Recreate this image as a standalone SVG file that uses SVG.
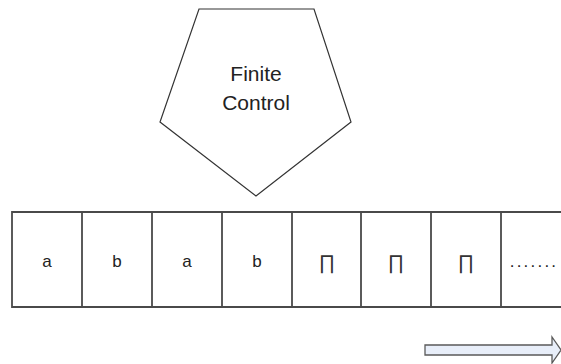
<svg xmlns="http://www.w3.org/2000/svg" width="561" height="364" viewBox="0 0 561 364">
  <style>
    .shape { fill: #ffffff; stroke: #333333; stroke-width: 1.2; }
    .tape { fill: none; stroke: #4a4a4a; stroke-width: 1.8; }
    .label { font-family: "Liberation Sans", Arial, sans-serif; fill: #222222; text-anchor: middle; }
    .cell { font-size: 17px; }
    .blank { font-size: 20px; fill: #333333; }
    .title { font-size: 21px; }
    .arrow { fill: #e8eef9; stroke: #5a5a5a; stroke-width: 1.3; stroke-linejoin: miter; }
  </style>
  <rect width="561" height="364" fill="#ffffff"/>

  <!-- finite control -->
  <g id="finite-control">
    <polygon class="shape" points="199,9 314,9 351,122 256,196 160,122"/>
    <text class="label title" x="256" y="81">Finite</text>
    <text class="label title" x="256" y="110">Control</text>
  </g>

  <!-- tape, open on the right -->
  <g id="tape">
    <path class="tape" d="M561,212 H12 V307 H561"/>
    <path class="tape" d="M82,212 V307 M152,212 V307 M222,212 V307 M292,212 V307 M361,212 V307 M431,212 V307 M501,212 V307"/>
  </g>
  <g id="cell-1"><text class="label cell" x="47" y="267">a</text></g>
  <g id="cell-2"><text class="label cell" x="117" y="267">b</text></g>
  <g id="cell-3"><text class="label cell" x="187" y="267">a</text></g>
  <g id="cell-4"><text class="label cell" x="257" y="267">b</text></g>
  <g id="cell-5"><text class="label blank" x="327" y="269">∏</text></g>
  <g id="cell-6"><text class="label blank" x="396" y="269">∏</text></g>
  <g id="cell-7"><text class="label blank" x="466" y="269">∏</text></g>
  <g id="cell-8"><text class="label cell" x="534" y="267" letter-spacing="2.2">.......</text></g>

  <!-- direction of head movement -->
  <g id="direction-arrow">
    <polygon class="arrow" points="425,345 552,345 552,337 561,350 552,363 552,355 425,355"/>
  </g>
</svg>
